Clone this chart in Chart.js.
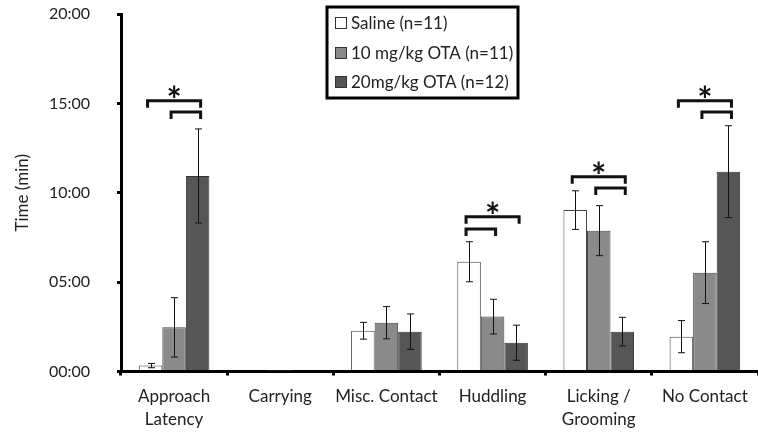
<!DOCTYPE html>
<html>
<head>
<meta charset="utf-8">
<script src="https://cdn.jsdelivr.net/npm/chart.js@4/dist/chart.umd.min.js"></script>
<style>
    html, body { margin: 0; padding: 0; background: #ffffff; }
    #wrap { width: 758px; height: 436px; position: relative; }
</style>
</head>
<body>
<div id="wrap"><canvas id="behaviourChart"></canvas></div>
<script>
// Time spent on each maternal behaviour (minutes), mean and SEM
const categories = [['Approach', 'Latency'], 'Carrying', 'Misc. Contact', 'Huddling', ['Licking /', 'Grooming'], 'No Contact'];
const groupLabels = ['Saline (n=11)', '10 mg/kg OTA (n=11)', '20mg/kg OTA (n=12)'];

const salineMeans = [0.33, 0, 2.28, 6.14, 9.03, 1.95];
const salineErr = [0.12, 0, 0.47, 1.12, 1.08, 0.9];
const ota10Means = [2.47, 0.05, 2.73, 3.07, 7.88, 5.53];
const ota10Err = [1.66, 0, 0.9, 0.97, 1.4, 1.73];
const ota20Means = [10.94, 0, 2.23, 1.61, 2.23, 11.18];
const ota20Err = [2.63, 0, 0.99, 0.98, 0.8, 2.57];

const yTicks = [0, 5, 10, 15, 20];

// significance brackets: category, from bar, to bar, height (min)
const bracketCat = [0, 0, 3, 3, 4, 4, 5, 5];
const bracketFrom = [0, 1, 0, 0, 0, 1, 0, 1];
const bracketTo = [2, 2, 2, 1, 2, 2, 2, 2];
const bracketLevel = [15.15, 14.52, 8.66, 7.97, 10.9, 10.27, 15.15, 14.52];
const starCat = [0, 3, 4, 5];
const starLevel = [15.15, 8.66, 10.9, 15.15];

const FONT = 'Lato, "Open Sans", sans-serif';
const TEXT = '#222222';

const errorBars = {
    id: 'errorBars',
    afterDatasetsDraw(chart) {
        const ctx = chart.ctx;
        const y = chart.scales.y;
        const errs = [salineErr, ota10Err, ota20Err];
        ctx.save();
        ctx.strokeStyle = '#111';
        ctx.lineWidth = 1;
        chart.data.datasets.forEach((ds, i) => {
            const meta = chart.getDatasetMeta(i);
            meta.data.forEach((bar, j) => {
                const e = errs[i][j];
                if (!e) return;
                const top = y.getPixelForValue(ds.data[j] + e);
                const bot = y.getPixelForValue(ds.data[j] - e);
                const x = Math.round(bar.x) + 0.5;
                ctx.beginPath();
                ctx.moveTo(x, top); ctx.lineTo(x, bot);
                ctx.moveTo(x - 3.5, top); ctx.lineTo(x + 3.5, top);
                ctx.moveTo(x - 3.5, bot); ctx.lineTo(x + 3.5, bot);
                ctx.stroke();
            });
        });
        ctx.restore();
    }
};

const brackets = {
    id: 'brackets',
    afterDatasetsDraw(chart) {
        const ctx = chart.ctx;
        const y = chart.scales.y;
        const barX = (i, c) => chart.getDatasetMeta(i).data[c].x;
        ctx.save();
        ctx.strokeStyle = '#111';
        ctx.lineWidth = 3;
        ctx.lineJoin = 'miter';
        bracketCat.forEach((c, k) => {
            const x1 = barX(bracketFrom[k], c) - 3;
            const x2 = barX(bracketTo[k], c) + 3;
            const yy = y.getPixelForValue(bracketLevel[k]);
            ctx.beginPath();
            ctx.moveTo(x1, yy + 7);
            ctx.lineTo(x1, yy);
            ctx.lineTo(x2, yy);
            ctx.lineTo(x2, yy + 7);
            ctx.stroke();
        });
        ctx.fillStyle = '#111';
        ctx.font = 'bold 36px ' + FONT;
        ctx.textAlign = 'center';
        ctx.textBaseline = 'alphabetic';
        const m = ctx.measureText('*');
        const mid = (m.actualBoundingBoxAscent - m.actualBoundingBoxDescent) / 2;
        starCat.forEach((c, k) => {
            const x = (barX(0, c) + barX(2, c)) / 2;
            const yy = y.getPixelForValue(starLevel[k]);
            ctx.fillText('*', x, yy - 9 + mid);
        });
        ctx.restore();
    }
};

const boxLegend = {
    id: 'boxLegend',
    afterDraw(chart) {
        const ctx = chart.ctx;
        ctx.save();
        ctx.fillStyle = '#fff';
        ctx.fillRect(327, 7, 191, 91);
        ctx.strokeStyle = '#000';
        ctx.lineWidth = 3;
        ctx.strokeRect(327, 7, 191, 91);
        ctx.font = '17px ' + FONT;
        ctx.textBaseline = 'middle';
        const rows = [23, 53, 82];
        chart.data.datasets.forEach((ds, i) => {
            ctx.fillStyle = ds.backgroundColor;
            ctx.fillRect(335.5, rows[i] - 5.5, 11, 11);
            ctx.strokeStyle = '#333';
            ctx.lineWidth = 1;
            ctx.strokeRect(335.5, rows[i] - 5.5, 11, 11);
            ctx.fillStyle = TEXT;
            ctx.fillText(ds.label, 351, rows[i] + 1);
        });
        ctx.restore();
    }
};

const ctx = document.getElementById('behaviourChart');
new Chart(ctx, {
    type: 'bar',
    data: {
        labels: categories,
        datasets: [
            { label: groupLabels[0], data: salineMeans, backgroundColor: '#ffffff', borderColor: '#444', borderWidth: 1 },
            { label: groupLabels[1], data: ota10Means, backgroundColor: '#8a8a8a', borderColor: '#444', borderWidth: 1 },
            { label: groupLabels[2], data: ota20Means, backgroundColor: '#565656', borderColor: '#333', borderWidth: 1 }
        ]
    },
    options: {
        responsive: true,
        maintainAspectRatio: false,
        animation: false,
        devicePixelRatio: 1,
        categoryPercentage: 0.665,
        barPercentage: 1,
        layout: { padding: { top: 14, right: 0, left: 0, bottom: 0 } },
        plugins: {
            legend: { display: false },
            tooltip: { enabled: false }
        },
        scales: {
            x: {
                grid: {
                    offset: true,
                    drawOnChartArea: false,
                    color: '#000',
                    lineWidth: 3,
                    tickLength: 4
                },
                border: { color: '#000', width: 3 },
                ticks: {
                    color: TEXT,
                    font: { family: FONT, size: 17, lineHeight: 1.35 },
                    padding: 10,
                    maxRotation: 0,
                    autoSkip: false
                },
                afterFit(scale) { scale.height = 64.5; }
            },
            y: {
                min: 0,
                max: 20,
                afterBuildTicks(scale) { scale.ticks = yTicks.map(v => ({ value: v })); },
                grid: {
                    drawOnChartArea: false,
                    color: '#000',
                    lineWidth: 3,
                    tickLength: 4
                },
                border: { color: '#000', width: 3 },
                ticks: {
                    color: TEXT,
                    font: { family: FONT, size: 16 },
                    padding: 27,
                    callback: v => String(v).padStart(2, '0') + ':00'
                },
                title: {
                    display: true,
                    text: 'Time (min)',
                    color: TEXT,
                    font: { family: FONT, size: 17 },
                    padding: { top: 12, bottom: 0 }
                },
                afterFit(scale) {
                    scale.width = 121;
                    scale.paddingTop = 0;
                    scale.paddingBottom = 0;
                }
            }
        }
    },
    plugins: [errorBars, brackets, boxLegend]
});
</script>
</body>
</html>
